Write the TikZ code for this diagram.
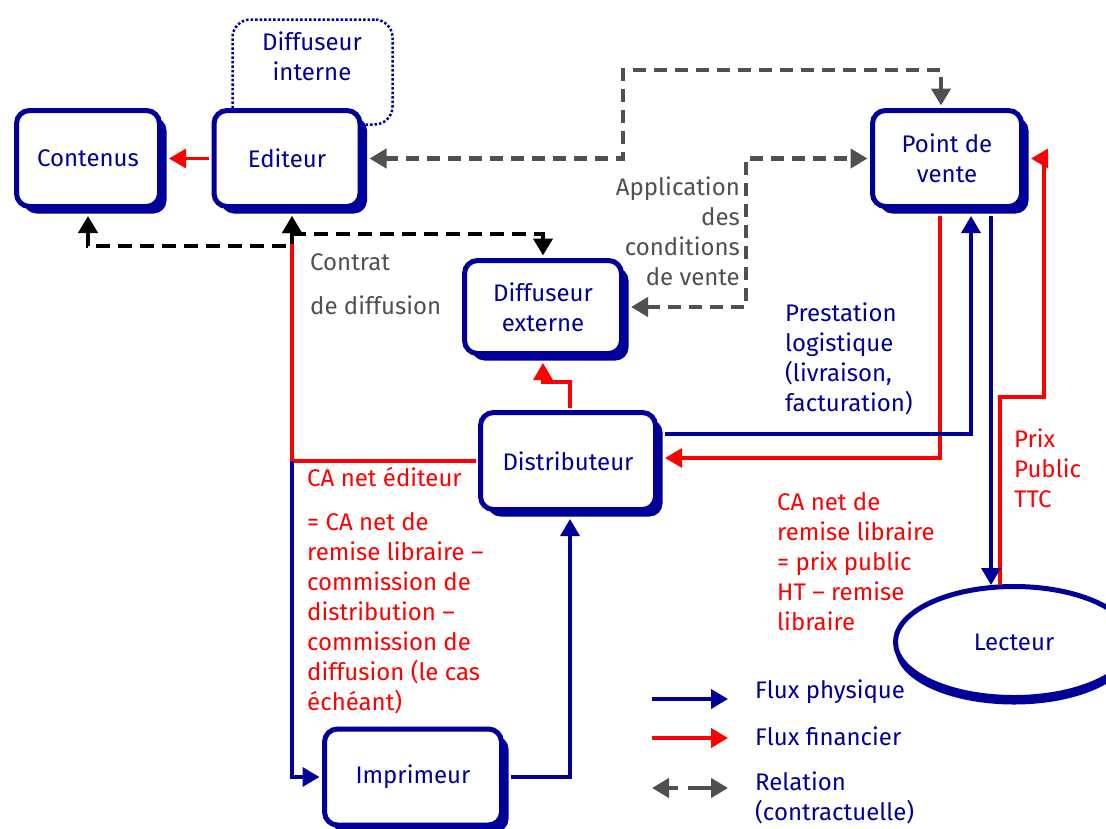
\documentclass[tikz,border=0pt]{standalone}
\usepackage{fontspec}
\setmainfont{Fira Sans}
\usetikzlibrary{arrows.meta,shadows,shapes.geometric,calc}
\definecolor{navy}{HTML}{000099}
\definecolor{fred}{HTML}{FF0000}
\definecolor{dgray}{HTML}{505050}
\newcommand{\txt}{\fontsize{24}{30}\selectfont}
\begin{document}
\begin{tikzpicture}[x=1pt,y=-1pt,
  tip/.tip={Triangle[length=17pt,width=19pt]},
  box/.style={draw=navy, line width=5pt, fill=white, rounded corners=13pt, text=navy, align=center, font=\txt, inner sep=0pt,
    drop shadow={shadow xshift=7pt, shadow yshift=-7pt, fill=navy, opacity=1}},
  ell/.style={ellipse, draw=navy, line width=5pt, fill=white, text=navy, font=\txt, inner sep=0pt,
    drop shadow={shadow xshift=0pt, shadow yshift=-7pt, fill=navy, opacity=1}},
  phys/.style={navy, line width=3.5pt, -tip},
  fin/.style={fred, line width=3.2pt, -tip},
  rel/.style={dgray, line width=4.5pt, dash pattern=on 13pt off 8pt, tip-tip},
  ctr/.style={black, line width=4pt, dash pattern=on 14pt off 8pt},
  lab/.style={font=\txt, inner sep=0pt, align=left, anchor=north west},
]
\useasboundingbox (0,0) rectangle (1106,828);

% Diffuseur interne (dotted, behind Editeur)
\node[draw=navy, line width=2.5pt, dash pattern=on 2.5pt off 2pt, rounded corners=18pt,
      minimum width=160pt, minimum height=105pt, inner sep=0pt] (interne) at (312.5,72) {};
\node[font=\txt, text=navy, align=center, inner sep=0pt] (internetxt) at (312,56) {Diffuseur\\interne};

% boxes
\node[box, minimum width=143pt, minimum height=96pt] (contenus) at (88,158.5) {Contenus};
\node[box, minimum width=146pt, minimum height=96pt] (editeur) at (287,158.5) {Editeur};
\node[box, minimum width=149pt, minimum height=96pt] (pdv) at (947,158.5) {Point de\\vente};
\node[box, minimum width=157pt, minimum height=93pt] (diffext) at (543,307) {Diffuseur\\externe};
\node[box, minimum width=175pt, minimum height=97pt] (distrib) at (568,461) {Distributeur};
\node[box, minimum width=177pt, minimum height=96pt] (imprimeur) at (413,777) {Imprimeur};
\node[ell, minimum width=237pt, minimum height=111pt] (lecteur) at (1014,642) {Lecteur};

% coordinates for bends
\coordinate (r1) at (623,70);
\coordinate (r2) at (941,70);
\coordinate (r3) at (746,158.5);
\coordinate (b1) at (88,246);
\coordinate (b2) at (292,246);
\coordinate (b3) at (292,234);
\coordinate (b4) at (543,234);
\coordinate (j1) at (292,461);
\coordinate (j2) at (292,777);
\coordinate (j3) at (570,777);
\coordinate (j4) at (570,382);
\coordinate (j5) at (543,382);
\coordinate (j6) at (971,434);
\coordinate (j7) at (940,458);
\coordinate (j8) at (991,585);
\coordinate (j9) at (1000,585);
\coordinate (j10) at (1000,397);
\coordinate (j11) at (1044,397);

% financial flows
\draw[fin, shorten <=2.5pt, shorten >=7pt] (editeur.west) -- (contenus.east);
\draw[fin, shorten <=2.5pt, shorten >=7pt] (distrib.west) -- (j1) -- (b2 |- editeur.south);
\draw[fin, shorten <=2.5pt, shorten >=7pt] (j4 |- distrib.north) -- (j4) -- (j5) -- (diffext.south);
\draw[fin, shorten <=7pt, shorten >=7pt] (j7 |- pdv.south) -- (j7) -- (j7 -| distrib.east);
\draw[fin, shorten >=7pt] (j9) -- (j10) -- (j11) -- (j11 |- pdv.east) -- (pdv.east);

% physical flows
\draw[phys, shorten >=2.5pt] (j1) -- (j2) -- (imprimeur.west);
\draw[phys, shorten <=7pt, shorten >=7pt] (imprimeur.east) -- (j3) -- (j3 |- distrib.south);
\draw[phys, shorten <=7pt, shorten >=7pt] (distrib.east |- j6) -- (j6) -- (j6 |- pdv.south);
\draw[phys, shorten <=7pt] (j8 |- pdv.south) -- (j8);

% contractual relations
\draw[rel, shorten <=7pt, shorten >=2.5pt] (editeur.east) -- (r1 |- editeur.east) -- (r1) -- (r2) -- (r2 |- pdv.north);
\draw[rel, shorten <=7pt, shorten >=2.5pt] (diffext.east) -| (r3) -- (pdv.west);
\draw[ctr, tip-tip, shorten <=7pt, shorten >=7pt] (contenus.south) -- (b1) -- (b2) -- (b2 |- editeur.south);
\draw[ctr, -tip, shorten >=2.5pt] (b3) -- (b4) -- (diffext.north);

% labels
\node[lab, text=dgray, font=\fontsize{24}{44}\selectfont] (contrat) at (310,253) {Contrat\\de diffusion};
\node[lab, text=dgray, align=right, anchor=north east] (appli) at (740,177) {Application\\des\\conditions\\de vente};
\node[lab, text=navy] (presta) at (785,303) {Prestation\\logistique\\(livraison,\\facturation)};
\node[lab, text=fred] (prix) at (1014,429) {Prix\\Public\\TTC};
\node[lab, text=fred] (canet) at (777,492) {CA net de\\remise libraire\\= prix public\\HT – remise\\libraire};
\node[lab, text=fred] (caed) at (307,467) {CA net éditeur};
\node[lab, text=fred] (formule) at (307,512) {= CA net de\\remise libraire –\\commission de\\distribution –\\commission de\\diffusion (le cas\\échéant)};

% legend
\coordinate (l1a) at (652,699);
\coordinate (l1b) at (728,699);
\coordinate (l2a) at (652,738);
\coordinate (l2b) at (728,738);
\coordinate (l3a) at (652,788);
\coordinate (l3b) at (728,788);
\draw[phys, line width=4pt] (l1a) -- (l1b);
\draw[fin, line width=4pt] (l2a) -- (l2b);
\draw[rel, dash pattern=on 10pt off 10pt on 14pt off 0pt] (l3a) -- (l3b);
\node[lab, text=navy] (lg1) at (755,680) {Flux physique};
\node[lab, text=navy] (lg2) at (755,727) {Flux financier};
\node[lab, text=navy] (lg3) at (755,772) {Relation\\(contractuelle)};
\end{tikzpicture}
\end{document}
